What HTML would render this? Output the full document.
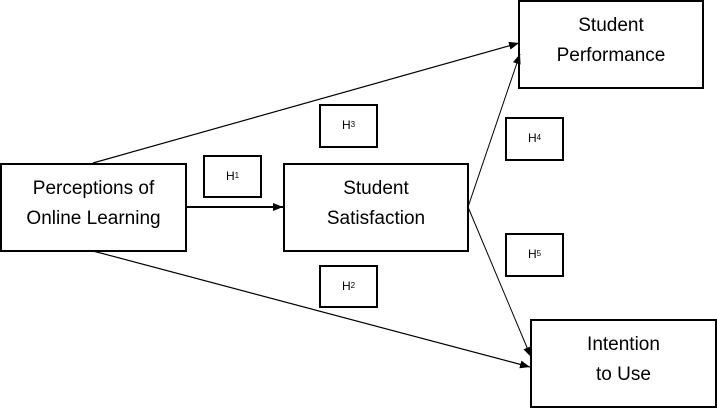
<!DOCTYPE html>
<html><head><style>
body{margin:0;width:717px;height:408px;background:#fff;position:relative;overflow:hidden;font-family:"Liberation Sans",sans-serif}
.b{position:absolute;border:2px solid #000;box-sizing:border-box;display:flex;align-items:center;justify-content:center;text-align:center;font-size:19px;line-height:30px;color:#000;padding-bottom:8px}
.h{font-size:12px;padding-bottom:2px}
.h sub{font-size:8px}
svg{position:absolute;left:0;top:0}
</style></head><body>
<svg width="717" height="408">
<defs><marker id="a" markerWidth="10" markerHeight="8" refX="10" refY="4" orient="auto" markerUnits="userSpaceOnUse"><path d="M0,0L10,4L0,8Z"/></marker></defs>
<g stroke="#000" fill="none">
<line x1="93" y1="163" x2="519" y2="43" stroke-width="1.2" marker-end="url(#a)"/>
<line x1="93" y1="251" x2="530" y2="367" stroke-width="1.2" marker-end="url(#a)"/>
<line x1="186" y1="207" x2="283" y2="207" stroke-width="2" marker-end="url(#a)"/>
<line x1="468" y1="207" x2="520" y2="54" stroke-width="1" marker-end="url(#a)"/>
<line x1="468" y1="207" x2="531" y2="357" stroke-width="1" marker-end="url(#a)"/>
</g></svg>
<div class="b" style="left:0;top:163px;width:187px;height:89px">Perceptions of<br>Online Learning</div>
<div class="b" style="left:283px;top:163px;width:186px;height:89px">Student<br>Satisfaction</div>
<div class="b" style="left:518px;top:0;width:186px;height:89px">Student<br>Performance</div>
<div class="b" style="left:530px;top:319px;width:187px;height:89px">Intention<br>to Use</div>
<div class="b h" style="left:203px;top:155px;width:59px;height:43px">H<sub>1</sub></div>
<div class="b h" style="left:319px;top:104px;width:59px;height:44px">H<sub>3</sub></div>
<div class="b h" style="left:319px;top:265px;width:59px;height:43px">H<sub>2</sub></div>
<div class="b h" style="left:505px;top:117px;width:59px;height:44px">H<sub>4</sub></div>
<div class="b h" style="left:505px;top:233px;width:59px;height:44px">H<sub>5</sub></div>
</body></html>
